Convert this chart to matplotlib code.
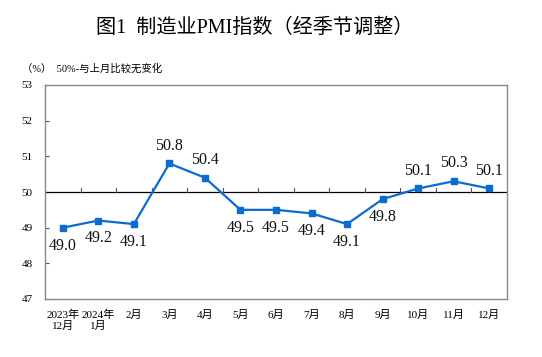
import matplotlib
matplotlib.use("Agg")
import matplotlib.pyplot as plt
import numpy as np

plt.rcParams['font.family'] = ['Liberation Serif', 'Noto Sans CJK SC', 'DejaVu Sans']

months = ["2023年\n12月", "2024年\n1月", "2月", "3月", "4月", "5月", "6月",
          "7月", "8月", "9月", "10月", "11月", "12月"]
pmi = [49.0, 49.2, 49.1, 50.8, 50.4, 49.5, 49.5, 49.4, 49.1, 49.8, 50.1, 50.3, 50.1]
label_above = [False, False, False, True, True, False, False, False, False, False, True, True, True]
y_ticks = [47, 48, 49, 50, 51, 52, 53]

W, H = 542, 357
fig = plt.figure(figsize=(W / 100, H / 100), dpi=100)
ax = fig.add_axes([45 / W, 1 - 299 / H, 462 / W, 214 / H])

x = np.arange(len(pmi))
ax.plot(x, pmi, color="#0a6ccf", linewidth=1.6, marker="s", markersize=4.5, zorder=3)
ax.axhline(50, color="black", linewidth=0.9, zorder=2)

# small tick marks on the 50 line at month boundaries
for b in x[:-1] + 0.5:
    ax.plot([b, b], [50, 50.1], color="#555555", linewidth=0.8, zorder=2)

for xi, v, up in zip(x, pmi, label_above):
    off = 0.5 if up else -0.5
    ax.text(xi, v + off, f"{v:.1f}", ha="center", va="center", fontsize=11.5,
            family="Liberation Serif", color="#111111")

ax.set_xlim(-0.5, len(pmi) - 0.5)
ax.set_ylim(47, 53)
ax.set_yticks(y_ticks)
ax.set_yticklabels([str(t) for t in y_ticks], fontsize=8)
ax.tick_params(axis="y", direction="in", length=3, pad=9, color="#555555")
ax.set_xticks(x)
ax.set_xticklabels(months, fontsize=8, family=["Liberation Serif", "Noto Sans CJK SC"],
                   linespacing=1.0, va="top")
ax.tick_params(axis="x", length=0, pad=8)
for s in ax.spines.values():
    s.set_color("#888888")
    s.set_linewidth(1.0)

fig.text(0.47, 1 - 28 / H, "图1  制造业PMI指数（经季节调整）", ha="center", va="center",
         fontsize=14.5, family=["Liberation Serif", "Noto Sans CJK SC"])
fig.text(22 / W, 1 - 69 / H, "（%）  50%-与上月比较无变化", ha="left", va="center",
         fontsize=7.5, family=["Liberation Serif", "Noto Sans CJK SC"])

fig.savefig("out.png", dpi=100)
